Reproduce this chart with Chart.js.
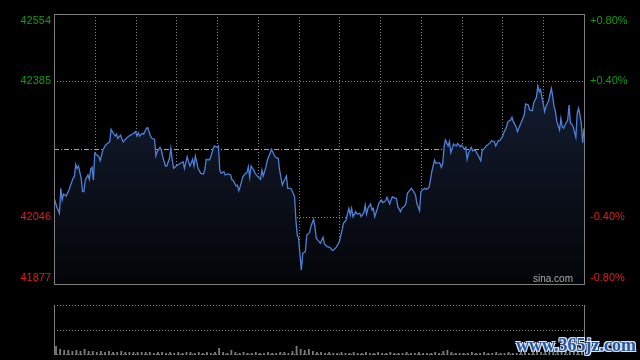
<!DOCTYPE html>
<html>
<head>
<meta charset="utf-8">
<script src="https://cdn.jsdelivr.net/npm/chart.js@4/dist/chart.umd.min.js"></script>
<style>
html,body{margin:0;padding:0;background:#000;width:640px;height:360px;overflow:hidden;}
#c1{position:absolute;left:0;top:0;}
#c2{position:absolute;left:0;top:296px;}
#wm{position:absolute;left:516px;top:336px;font:bold 18px "Liberation Serif",serif;line-height:18px;color:#2558a5;
text-shadow:1px 1px 0 #dfe8f5,-1px -1px 0 #dfe8f5,1px -1px 0 #dfe8f5,-1px 1px 0 #dfe8f5;white-space:nowrap;}
</style>
</head>
<body>
<canvas id="c1" width="640" height="296"></canvas>
<canvas id="c2" width="640" height="64"></canvas>
<div id="wm">www.365jz.com</div>
<script>
// ---- data ----
const prevClose = 42215.5;
const priceTicks = [42554, 42385, 42046, 41877];
const pctTicks = ['+0.80%', '+0.40%', '-0.40%', '-0.80%'];
const timeGrid = [30, 60, 90, 120, 150, 180, 210, 240, 270, 300, 330, 360];
const sessionMinutes = 390;

const minutes = [
 0,2,4,5,6,7,9,11,12,14,
 15,16,17,18,20,21,22,23,25,26,
 27,28,29,30,33,34,36,38,40,41,
 42,44,45,46,47,49,50,51,52,54,
 56,58,60,61,62,63,65,66,68,69,
 71,72,74,75,76,78,79,80,82,83,
 85,86,87,88,90,91,93,95,96,98,
 99,100,102,103,104,105,106,108,110,111,
 112,114,115,117,118,120,121,122,123,125,
 126,128,130,131,132,134,135,136,137,139,
 141,142,143,144,145,147,148,150,152,153,
 154,156,157,159,160,162,163,165,166,168,
 169,171,172,174,175,177,178,179,180,181,
 182,183,185,186,188,189,191,192,193,195,
 196,198,199,201,203,
 205,207,208,210,212,213,215,216,217,218,
 219,220,222,223,225,226,228,229,230,231,
 233,234,235,236,238,239,241,242,244,245,
 247,248,249,251,252,253,255,256,258,259,
 260,261,263,264,266,267,269,270,271,273,
 274,276,277,278,280,281,283,284,285,286,
 287,288,290,291,292,293,294,296,297,299,
 300,302,303,304,305,307,308,310,311,312,
 314,315,316,318,319,321,322,324,325,327,
 328,330,331,333,334,336,337,338,340,341,
 343,344,346,347,349,350,352,353,355,356,
 357,358,359,360,361,362,364,365,366,367,
 368,369,370,372,373,374,375,376,378,379,
 380,381,382,384,385,386,387,388,389,390
];
const prices = [
 42094.3,42070.9,42054.2,42116.9,42087.6,42102.7,42097.7,42112.7,42122.7,42142.0,
 42146.1,42177.1,42167.0,42172.9,42142.0,42108.5,42108.5,42137.8,42150.3,42139.4,
 42164.5,42169.5,42137.8,42204.6,42196.3,42186.3,42213.0,42225.5,42231.4,42233.9,
 42264.8,42253.1,42248.1,42253.1,42242.3,42250.6,42239.7,42233.1,42238.1,42244.8,
 42249.8,42253.1,42259.0,42248.1,42256.5,42248.1,42254.8,42253.1,42267.3,42269.0,
 42248.1,42242.3,42239.7,42198.0,42208.8,42219.7,42213.0,42196.3,42172.9,42172.9,
 42192.1,42217.2,42187.9,42167.0,42172.9,42175.4,42179.6,42183.7,42167.0,42196.3,
 42183.7,42172.9,42189.6,42172.9,42198.0,42183.7,42167.0,42154.5,42152.8,42164.5,
 42189.6,42187.9,42192.1,42214.7,42223.0,42219.7,42223.0,42162.8,42154.5,42158.7,
 42150.3,42152.8,42150.3,42137.8,42136.1,42122.7,42125.2,42111.0,42121.1,42146.1,
 42154.5,42156.2,42171.2,42144.5,42172.9,42162.8,42154.5,42146.1,42139.4,42162.8,
 42147.8,42171.2,42187.9,42204.6,42214.7,42200.5,42194.6,42192.1,42162.8,42125.2,
 42133.6,42147.8,42116.9,42116.9,42112.7,42096.0,42037.5,41999.9,41991.5,41949.7,
 41912.1,41953.9,41958.1,41999.9,42005.7,42020.8,42039.2,42020.8,41991.5,41983.2,
 41979.0,41994.0,41977.3,41970.6,41968.9,
 41960.6,41966.4,41970.6,41983.2,42012.4,42029.1,42037.5,42054.2,42066.7,42050.0,
 42066.7,42045.8,42058.4,42052.5,42054.2,42045.8,42055.9,42075.1,42052.5,42066.7,
 42077.6,42062.5,42066.7,42045.8,42066.7,42079.3,42087.6,42080.9,42086.0,42094.3,
 42077.6,42087.6,42096.0,42091.8,42091.8,42070.9,42058.4,42066.7,42072.6,42079.3,
 42104.3,42108.5,42116.9,42112.7,42100.2,42079.3,42060.9,42108.5,42112.7,42116.9,
 42114.4,42119.4,42137.8,42158.7,42187.9,42179.6,42181.2,42179.6,42169.5,42177.9,
 42219.7,42238.1,42223.0,42233.9,42206.3,42217.2,42228.0,42223.0,42229.7,42221.4,
 42225.5,42214.7,42219.7,42189.6,42204.6,42219.7,42211.3,42213.0,42206.3,42200.5,
 42186.3,42211.3,42214.7,42223.0,42225.5,42231.4,42236.4,42233.9,42223.0,42236.4,
 42236.4,42246.4,42256.5,42271.5,42284.0,42288.2,42294.9,42284.0,42271.5,42259.0,
 42275.7,42284.0,42300.8,42328.3,42325.8,42313.3,42311.6,42331.7,42345.1,42373.5,
 42359.3,42365.1,42346.7,42330.0,42309.1,42321.7,42336.7,42353.4,42367.6,42346.7,
 42321.7,42309.1,42284.0,42263.1,42292.4,42271.5,42267.3,42275.7,42288.2,42325.8,
 42279.9,42278.2,42271.5,42244.8,42304.9,42317.5,42300.8,42279.9,42231.4,42267.3
];
// volume per 3-minute bucket
const volumes = [
 9,6,5,5,4,5,4,6,4,4,
 3,4,3,4,3,3,4,3,3,3,
 3,3,3,3,2,3,3,2,3,2,
 3,2,3,3,2,3,2,3,2,3,
 7,3,2,5,3,2,3,2,2,3,
 2,2,3,2,2,3,3,2,4,9,
 6,5,6,4,3,3,2,3,2,2,
 3,2,2,3,2,2,3,2,2,3,
 2,2,3,2,2,2,3,2,2,3,
 2,2,2,3,2,4,5,3,2,2,
 2,2,3,2,2,3,2,2,3,2,
 2,3,2,2,3,3,2,3,4,3,
 3,3,4,3,3,4,3,3,4,5
];
const volumeMax = 50;

const GREEN = '#0f9d0f', RED = '#e01e1e';
const FONT = '"Liberation Sans", Arial, sans-serif';

function hline(ctx, x1, x2, y) { ctx.beginPath(); ctx.moveTo(x1, y); ctx.lineTo(x2, y); ctx.stroke(); }
function vline(ctx, x, y1, y2) { ctx.beginPath(); ctx.moveTo(x, y1); ctx.lineTo(x, y2); ctx.stroke(); }

const mainDecor = {
  id: 'mainDecor',
  beforeDatasetsDraw(chart) {
    const { ctx, chartArea: a, scales: { x, y } } = chart;
    ctx.save();
    ctx.lineWidth = 1;
    ctx.strokeStyle = '#858585';
    ctx.setLineDash([1, 2]);
    timeGrid.forEach(m => {
      const px = Math.round(x.getPixelForValue(m)) + 0.5;
      vline(ctx, px, a.top, a.bottom);
    });
    [priceTicks[1], priceTicks[2]].forEach(v => {
      const py = Math.round(y.getPixelForValue(v)) + 0.5;
      hline(ctx, a.left, a.right, py);
    });
    ctx.strokeStyle = '#a8a8a8';
    ctx.setLineDash([5, 2, 1, 2]);
    const pm = Math.round(y.getPixelForValue(prevClose)) + 0.5;
    hline(ctx, a.left, a.right, pm);
    ctx.restore();
  },
  afterDraw(chart) {
    const { ctx, chartArea: a, scales: { y } } = chart;
    ctx.save();
    ctx.setLineDash([]);
    ctx.strokeStyle = '#7d7d7d';
    ctx.lineWidth = 1;
    ctx.strokeRect(a.left + 0.5, a.top + 0.5, a.right - a.left, a.bottom - a.top);
    ctx.font = '11px ' + FONT;
    ctx.textBaseline = 'middle';
    priceTicks.forEach((v, i) => {
      let py = y.getPixelForValue(v);
      py = Math.min(Math.max(py, a.top + 6.5), a.bottom - 6.5);
      ctx.fillStyle = v > prevClose ? GREEN : RED;
      ctx.textAlign = 'right';
      ctx.fillText(String(v), a.left - 3, py);
      ctx.textAlign = 'left';
      ctx.fillText(pctTicks[i], a.right + 6, py);
    });
    ctx.fillStyle = '#aaaaaa';
    ctx.font = '10px ' + FONT;
    ctx.textAlign = 'right';
    ctx.fillText('sina.com', a.right - 11, a.bottom - 5);
    ctx.restore();
  }
};

new Chart(document.getElementById('c1'), {
  type: 'line',
  data: {
    datasets: [{
      data: minutes.map((m, i) => ({ x: m, y: prices[i] })),
      borderColor: '#4d80da',
      borderWidth: 1.3,
      pointRadius: 0,
      tension: 0,
      fill: 'start',
      backgroundColor: (c) => {
        const a = c.chart.chartArea;
        if (!a) return 'rgba(0,0,0,0)';
        const g = c.chart.ctx.createLinearGradient(0, a.top, 0, a.bottom);
        g.addColorStop(0, '#18243d');
        g.addColorStop(1, '#040508');
        return g;
      }
    }]
  },
  options: {
    responsive: false,
    animation: false,
    events: [],
    layout: { padding: { left: 54, right: 56, top: 14, bottom: 12 } },
    plugins: { legend: { display: false }, tooltip: { enabled: false } },
    scales: {
      x: { type: 'linear', display: false, min: 0, max: sessionMinutes },
      y: { type: 'linear', display: false, min: priceTicks[3], max: priceTicks[0] }
    }
  },
  plugins: [mainDecor]
});

const volDecor = {
  id: 'volDecor',
  beforeDatasetsDraw(chart) {
    const { ctx, chartArea: a, scales: { y } } = chart;
    ctx.save();
    ctx.lineWidth = 1;
    ctx.strokeStyle = '#858585';
    ctx.setLineDash([1, 2]);
    hline(ctx, a.left, a.right, a.top + 0.5);
    hline(ctx, a.left, a.right, Math.round(y.getPixelForValue(volumeMax / 2)) + 0.5);
    ctx.restore();
  },
  afterDraw(chart) {
    const { ctx, chartArea: a } = chart;
    ctx.save();
    ctx.lineWidth = 1;
    ctx.strokeStyle = '#858585';
    ctx.setLineDash([1, 2]);
    hline(ctx, a.left, a.right, a.bottom - 0.5);
    ctx.setLineDash([]);
    ctx.strokeStyle = '#7d7d7d';
    vline(ctx, a.left + 0.5, a.top, a.bottom);
    vline(ctx, a.right + 0.5, a.top, a.bottom);
    ctx.restore();
  }
};

new Chart(document.getElementById('c2'), {
  type: 'bar',
  data: {
    labels: volumes.map((v, i) => i * 3),
    datasets: [{
      data: volumes,
      backgroundColor: '#7a7a7a',
      barPercentage: 0.45,
      categoryPercentage: 1
    }]
  },
  options: {
    responsive: false,
    animation: false,
    events: [],
    layout: { padding: { left: 54, right: 56, top: 9, bottom: 5 } },
    plugins: { legend: { display: false }, tooltip: { enabled: false } },
    scales: {
      x: { display: false },
      y: { display: false, min: 0, max: volumeMax }
    }
  },
  plugins: [volDecor]
});
</script>
</body>
</html>
